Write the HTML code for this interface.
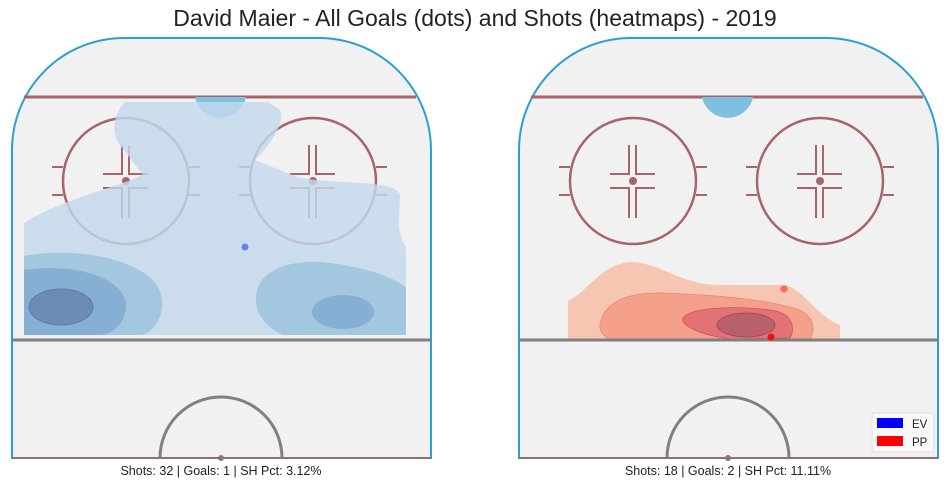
<!DOCTYPE html>
<html><head><meta charset="utf-8"><style>
body{margin:0;background:#fff;width:950px;height:489px;overflow:hidden}
svg{display:block;font-family:"Liberation Sans",sans-serif}
</style></head><body>
<svg width="950" height="489" viewBox="0 0 950 489">
<text x="475" y="26" text-anchor="middle" font-size="23" fill="#222">David Maier - All Goals (dots) and Shots (heatmaps) - 2019</text>
<defs>
<g id="rinkbase">
<path d="M12,458 L12,150 A112,112 0 0 1 124,38 L319,38 A112,112 0 0 1 431,150 L431,458 Z" fill="#f1f1f1" stroke="#2aa0d0" stroke-width="2"/>
<line x1="24" y1="97" x2="416" y2="97" stroke="#a86468" stroke-width="3"/>
<path d="M195,97 A26,26 0 0 0 246,97 Z" fill="#7ec0e0"/>
<g stroke="#a86468" stroke-width="2.5" fill="none">
<circle cx="126" cy="181" r="63"/><circle cx="313" cy="181" r="63"/>
</g>
<g stroke="#a86468" stroke-width="2" fill="none">
<path d="M52,167H63M52,195H63M189,167H200M189,195H200M239,167H250M239,195H250M376,167H387M376,195H387"/>
<path d="M103,174H122V145M129,145V174H148M103,188H122V218M129,218V188H148"/>
<path d="M290,174H309V145M316,145V174H335M290,188H309V218M316,218V188H335"/>
</g>
<circle cx="126" cy="181" r="4" fill="#a86468"/><circle cx="313" cy="181" r="4" fill="#a86468"/>
<path d="M160,458 A61,61 0 0 1 282,458" fill="none" stroke="#808080" stroke-width="3"/>
<circle cx="221" cy="458" r="3" fill="#808080"/>
<line x1="12" y1="458" x2="431" y2="458" stroke="#b06060" stroke-width="1.5"/>
</g>
</defs>
<g>
<use href="#rinkbase"/>
<g opacity="0.82">
<path d="M24,223 L24,335 L406,335 L406,247 C395,230 400,215 400,195 C395,180 350,185 300,178 L255,160 C275,140 285,120 280,110 L268,102 L125,102 C112,115 112,135 120,145 L143,175 C110,190 60,200 24,223 Z" fill="#c3d9ec"/>
<path d="M24,256 C80,245 160,262 162,300 C164,320 150,335 140,335 L24,335 Z" fill="#93bfdc"/>
<path d="M24,270 C80,262 125,280 126,305 C126,325 110,335 100,335 L24,335 Z" fill="#6ea2cd"/>
<ellipse cx="61" cy="307" rx="32" ry="18" fill="#4f76aa" stroke="#3a64a0"/>
<path d="M256,300 C255,270 290,258 330,263 C370,268 400,280 406,288 L406,335 L282,335 C265,325 256,315 256,300 Z" fill="#93bfdc"/>
<ellipse cx="343" cy="312" rx="31" ry="17" fill="#6ea2cd"/>
</g>
<line x1="12" y1="340" x2="431" y2="340" stroke="#808080" stroke-width="3"/>
<text x="221" y="475" text-anchor="middle" font-size="12.5" fill="#222">Shots: 32 | Goals: 1 | SH Pct: 3.12%</text>
</g>
<g transform="translate(507,0)">
<use href="#rinkbase"/>
<g>
<path d="M61,301 C83,290 93,265 123,262 C153,262 173,285 213,285 L278,285 C298,290 308,315 333,325 L333,340 L61,340 Z" fill="#f6c6b3"/>
<path d="M96,316 C103,300 123,293 153,293 C213,295 263,300 293,310 C308,318 308,330 303,340 L103,340 C88,330 93,322 96,316 Z" fill="#f4a08a" stroke="#f08070" stroke-width="0.7"/>
<path d="M176,318 C183,308 223,305 263,310 C288,313 288,330 283,338 L223,339 C193,335 173,325 176,318 Z" fill="#e27276" stroke="#d05058" stroke-width="0.7"/>
<ellipse cx="239" cy="325" rx="29" ry="12" fill="#b9616a" stroke="#a04050" stroke-width="0.7"/>
</g>
<line x1="12" y1="340" x2="431" y2="340" stroke="#808080" stroke-width="3"/>
<text x="221" y="475" text-anchor="middle" font-size="12.5" fill="#222">Shots: 18 | Goals: 2 | SH Pct: 11.11%</text>
</g>
<g id="dots"></g>
<g>
<rect x="872" y="413" width="62" height="39" rx="2" fill="#f8f8f8" stroke="#ddd"/>
<rect x="877" y="418" width="26" height="10" fill="#0000ff"/>
<text x="912" y="428" font-size="11.5" fill="#222">EV</text>
<rect x="877" y="436" width="26" height="10" fill="#ff0000"/>
<text x="912" y="446" font-size="11.5" fill="#222">PP</text>
</g>
</svg>
<script>
// goal locations in rink coords (x: 0-419 across, y: px from rink top)
const goalRink = ["left","right","right"];
const goalX = [233,265,252];
const goalY = [209,251,299];
const goalColor = ["#6680ff","#ff6655","#ee1111"];
const rinkLeft = {left:12,right:519};
function xs(r,v){return rinkLeft[r]+v;}
function ys(v){return 38+v;}
const g=document.getElementById('dots');
for(let i=0;i<goalX.length;i++){
 const c=document.createElementNS('http://www.w3.org/2000/svg','circle');
 c.setAttribute('cx',xs(goalRink[i],goalX[i]));
 c.setAttribute('cy',ys(goalY[i]));
 c.setAttribute('r',3.5);
 c.setAttribute('fill',goalColor[i]);
 
 
 g.appendChild(c);
}
</script>
</body></html>
